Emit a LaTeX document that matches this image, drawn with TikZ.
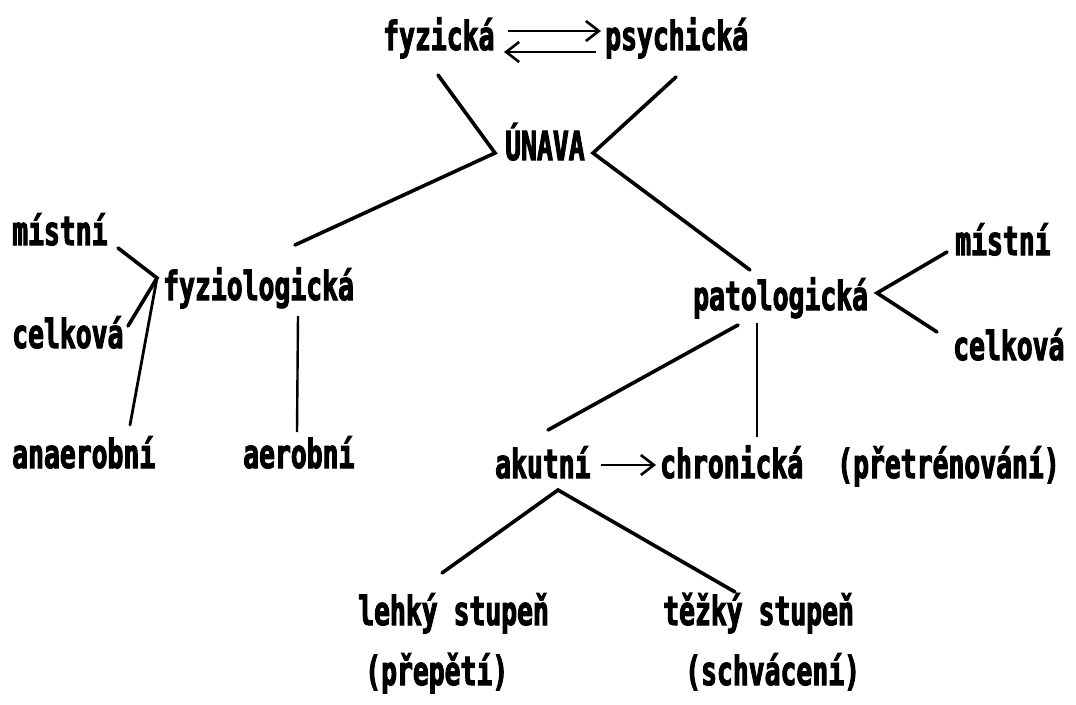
\documentclass[tikz,border=0pt]{standalone}
\usepackage{fontspec}
\setmonofont[FakeStretch=0.66,FakeBold=2.5]{DejaVu Sans Mono Bold}
\usetikzlibrary{arrows.meta}
\begin{document}
\begin{tikzpicture}[x=1pt,y=-1pt,
  lbl/.style={anchor=base west,inner sep=0pt,font=\ttfamily\fontsize{40}{40}\selectfont},
  ln/.style={line width=3.6pt,line cap=round,line join=miter},
  thin/.style={line width=2.4pt},
  arr/.style={line width=2.6pt,-{Straight Barb[length=13pt,width=20pt,line width=2.6pt]}}]
\useasboundingbox[fill=white] (0,0) rectangle (1076,704);
% labels
\node[lbl] (fyz) at (383,50) {fyzická};
\node[lbl] (psy) at (605,50) {psychická};
\node[lbl] (un) at (505,160) {ÚNAVA};
\node[lbl] (fzo) at (163,300) {fyziologická};
\node[lbl] (miL) at (12,245) {místní};
\node[lbl] (ceL) at (12,348) {celková};
\node[lbl] (ana) at (12,468) {anaerobní};
\node[lbl] (aer) at (243,468) {aerobní};
\node[lbl] (pat) at (693,310) {patologická};
\node[lbl] (miR) at (955,255) {místní};
\node[lbl] (ceR) at (953,360) {celková};
\node[lbl] (aku) at (495,478) {akutní};
\node[lbl] (chr) at (660,478) {chronická};
\node[lbl] (pre) at (837,478) {(přetrénování)};
\node[lbl] (leh) at (358,625) {lehký stupeň};
\node[lbl] (pep) at (365,685) {(přepětí)};
\node[lbl] (tez) at (663,625) {těžký stupeň};
\node[lbl] (sch) at (685,685) {(schvácení)};
% junction and end coordinates
\coordinate (fyzS) at (438,75);
\coordinate (psyS) at (676,77);
\coordinate (unW) at (495,153);
\coordinate (unE) at (593,153);
\coordinate (fzoNE) at (295,245);
\coordinate (patNW) at (750,270);
\coordinate (fzoW) at (157,278);
\coordinate (miLE) at (118,248);
\coordinate (ceLE) at (128,326);
\coordinate (anaN) at (130,425);
\coordinate (fzoS) at (298,316);
\coordinate (aerN) at (297,432);
\coordinate (patE) at (877,293);
\coordinate (miRW) at (947,252);
\coordinate (ceRW) at (937,332);
\coordinate (patSW) at (738,325);
\coordinate (akuN) at (548,430);
\coordinate (patS) at (757,323);
\coordinate (chrN) at (757,437);
\coordinate (akuS) at (558,490);
\coordinate (lehN) at (442,573);
\coordinate (tezN) at (735,592);
% connectors
\draw[arr] (508,31) -- (601,31);
\draw[arr] (596,52) -- (504,52);
\draw[ln] (fyzS) -- (unW) -- (fzoNE);
\draw[ln] (psyS) -- (unE) -- (patNW);
\draw[ln] (miLE) -- (fzoW) -- (ceLE);
\draw[ln,line width=2.8pt] (fzoW) -- (anaN);
\draw[thin] (fzoS) -- (aerN);
\draw[ln] (miRW) -- (patE) -- (ceRW);
\draw[ln] (patSW) -- (akuN);
\draw[thin] (patS) -- (chrN);
\draw[arr] (601,465) -- (656,465);
\draw[ln] (lehN) -- (akuS) -- (tezN);
\end{tikzpicture}
\end{document}
